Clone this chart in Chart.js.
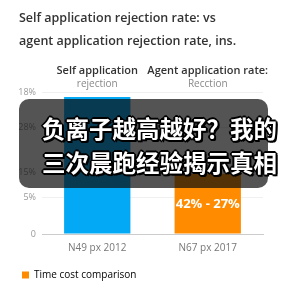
<!DOCTYPE html>
<html><head><meta charset="utf-8">
<script src="https://cdn.jsdelivr.net/npm/chart.js@4/dist/chart.umd.min.js"></script>
<style>
html,body{margin:0;padding:0;background:#fff;}
#wrap{position:relative;width:288px;height:288px;}
#overlay{position:absolute;left:19px;top:99px;width:249px;height:89px;border-radius:10px;background:rgba(12,12,12,0.7);}
#ovtext{position:absolute;left:42px;top:111px;white-space:nowrap;font-family:"Noto Sans CJK SC",sans-serif;font-weight:700;font-size:23.5px;line-height:34px;color:#fff;
text-shadow:2px 2px 0 #000,-1px -1px 0 #000,1px -1px 0 #000,-1px 1px 0 #000,2px 0 0 #000,0 2px 0 #000,-2px 0 0 #000,0 -2px 0 #000;}
</style></head>
<body><div id="wrap"><canvas id="c" width="288" height="288"></canvas>
<div id="overlay"></div>
<div id="ovtext">负离子越高越好？我的<br>三次晨跑经验揭示真相</div></div>
<script>
const titleLines = ["Self application rejection rate: vs", "agent application rejection rate, ins."];
const categories = ["N49 px 2012", "N67 px 2017"];
const headerTop = ["Self application", "Agent application rate:"];
const headerSub = ["rejection", "Recction"];
const values = [18.9, 8.3];
const barLabels = ["", "42% - 27%"];
const barColors = ["#03A9F4", "#FF8C00"];
const seriesName = "Time cost comparison";
const tickValues = [0, 5, 8.5, 14.7, 19.6];
const tickLabels = ["0", "5%", "15%", "28%", "18%"];

const F = "'Open Sans', 'Noto Sans', sans-serif";

const headerPlugin = {
  id: 'hdr',
  afterDraw(chart) {
    const ctx = chart.ctx, x = chart.scales.x, y = chart.scales.y;
    ctx.save();
    ctx.textAlign = 'center'; ctx.textBaseline = 'middle';
    categories.forEach((c, i) => {
      const px = x.getPixelForValue(i);
      ctx.font = "600 11px " + F; ctx.fillStyle = '#333';
      ctx.fillText(headerTop[i], px, 71);
      ctx.font = "10px " + F; ctx.fillStyle = '#888';
      ctx.fillText(headerSub[i], px, 84);
    });
    const meta = chart.getDatasetMeta(0);
    meta.data.forEach((bar, i) => {
      if (!barLabels[i]) return;
      ctx.font = "bold 13px " + F; ctx.fillStyle = '#fff';
      ctx.fillText(barLabels[i], bar.x, y.getPixelForValue(values[i]) + 30);
    });
    ctx.restore();
  }
};

new Chart(document.getElementById('c'), {
  type: 'bar',
  data: { labels: categories, datasets: [{ label: seriesName, data: values, backgroundColor: barColors, barPercentage: 0.6, categoryPercentage: 1.0 }] },
  options: {
    responsive: false, animation: false, devicePixelRatio: 1,
    layout: { padding: { left: 19, right: 25, top: 7, bottom: -2 } },
    plugins: {
      title: { display: true, text: titleLines, align: 'start', color: '#333', font: { family: F, size: 12.5, weight: '600', lineHeight: 1.84 }, padding: { top: 0, bottom: 39 } },
      legend: { position: 'bottom', align: 'start',
        labels: { boxWidth: 7, boxHeight: 7, padding: 3, color: '#666', font: { family: F, size: 10 },
          generateLabels: () => [{ text: seriesName, fillStyle: barColors[1], strokeStyle: barColors[1], lineWidth: 0, datasetIndex: 0 }] } },
      tooltip: { enabled: false }
    },
    scales: {
      x: { grid: { display: false }, border: { color: '#ccc' }, ticks: { color: '#777', font: { family: F, size: 10 }, padding: 0 },
        afterFit: s => { s.height += 13; } },
      y: { min: 0, max: 19.6, border: { display: false }, grid: { color: '#f0f0f0', drawTicks: false },
        afterBuildTicks: s => { s.ticks = tickValues.map(v => ({ value: v })); },
        afterFit: s => { s.width = 23; },
        ticks: { color: '#999', font: { family: F, size: 9 }, padding: 6, callback: (v) => tickLabels[tickValues.indexOf(v)] } }
    }
  },
  plugins: [headerPlugin]
});
</script></body></html>
